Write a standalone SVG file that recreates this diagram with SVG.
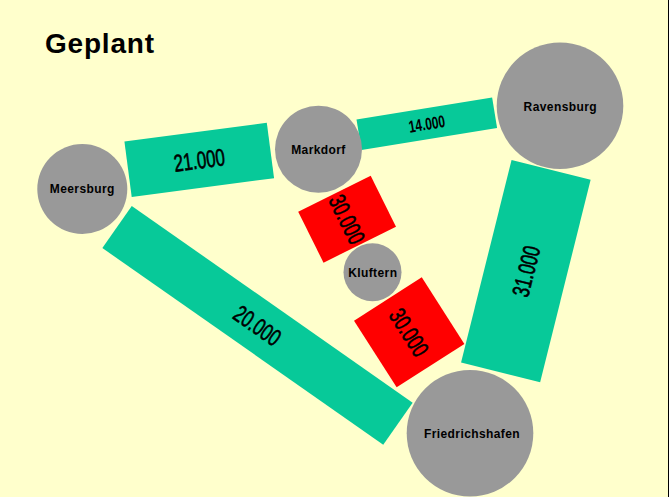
<svg xmlns="http://www.w3.org/2000/svg" width="669" height="497" viewBox="0 0 669 497">
<style>
.bg{fill:#FFFFCC}
.link{fill:#07C999}
.hot{fill:#FF0000}
.node{fill:#999999}
.lbl{font-family:"Liberation Sans",Arial,sans-serif;font-weight:bold;font-size:12px;letter-spacing:0.4px;fill:#000;text-anchor:middle}
.num{font-family:"Liberation Sans",Arial,sans-serif;font-size:24px;fill:#000;stroke:#000;stroke-width:0.6px;text-anchor:middle}
.num.small{font-size:17px;font-weight:bold;stroke-width:0}
.title{font-family:"Liberation Sans",Arial,sans-serif;font-weight:bold;font-size:28px;letter-spacing:0.8px;fill:#000}
</style>
<rect class="bg" x="0" y="0" width="669" height="497"/>
<line x1="668.5" y1="0" x2="668.5" y2="497" stroke="#000" stroke-width="1"/>
<text class="title" x="45" y="53">Geplant</text>
<g id="connectors">
  <g id="e-meersburg-markdorf" transform="translate(199.25,159.85) rotate(-7.5)">
    <rect class="link" x="-71.8" y="-27.9" width="143.6" height="55.8"/>
    <text class="num" transform="scale(0.7,1)" x="0" y="8.6">21.000</text>
  </g>
  <g id="e-markdorf-ravensburg" transform="translate(426.8,123.7) rotate(-9.2)">
    <rect class="link" x="-68.7" y="-15.5" width="137.4" height="31"/>
    <text class="num small" transform="scale(0.7,1)" x="0" y="6.1">14.000</text>
  </g>
  <g id="e-meersburg-friedrichshafen" transform="translate(257.5,325.35) rotate(35)">
    <rect class="link" x="-171.45" y="-25.65" width="342.9" height="51.3"/>
    <text class="num" transform="scale(0.7,1)" x="0" y="8.6">20.000</text>
  </g>
  <g id="e-ravensburg-friedrichshafen" transform="translate(525.85,271.15) rotate(-76)">
    <rect class="link" x="-104.3" y="-40.75" width="208.6" height="81.5"/>
    <text class="num" transform="scale(0.7,1)" x="0" y="8.6">31.000</text>
  </g>
  <g id="e-markdorf-kluftern" transform="translate(347.1,219.2) rotate(63.6)">
    <rect class="hot" x="-28.45" y="-40.45" width="56.9" height="80.9"/>
    <text class="num" transform="scale(0.7,1)" x="0" y="8.6">30.000</text>
  </g>
  <g id="e-kluftern-friedrichshafen" transform="translate(409.2,332.3) rotate(57.4)">
    <rect class="hot" x="-39.55" y="-40.2" width="79.1" height="80.4"/>
    <text class="num" transform="scale(0.7,1)" x="0" y="8.6">30.000</text>
  </g>
</g>
<g id="meersburg">
  <circle class="node" cx="82.3" cy="189" r="45"/>
  <text class="lbl" x="82.3" y="193">Meersburg</text>
</g>
<g id="markdorf">
  <circle class="node" cx="318.5" cy="149.3" r="43.5"/>
  <text class="lbl" x="318.5" y="153.5">Markdorf</text>
</g>
<g id="ravensburg">
  <circle class="node" cx="560" cy="105.8" r="63.3"/>
  <text class="lbl" x="560.3" y="110.5">Ravensburg</text>
</g>
<g id="kluftern">
  <circle class="node" cx="372.5" cy="272.2" r="29"/>
  <text class="lbl" x="372.8" y="276.5">Kluftern</text>
</g>
<g id="friedrichshafen">
  <circle class="node" cx="470" cy="433.3" r="63.3"/>
  <text class="lbl" x="472" y="437.5">Friedrichshafen</text>
</g>
</svg>
